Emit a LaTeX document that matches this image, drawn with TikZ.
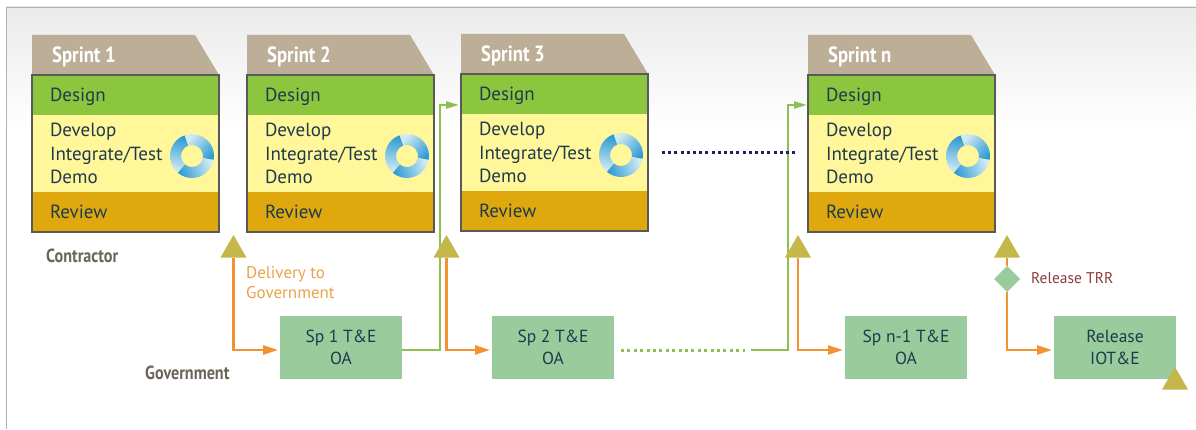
\documentclass[tikz,border=0pt]{standalone}
\usepackage{fontspec}
\setmainfont{PT Sans}
\newfontfamily\headfont[FakeStretch=0.85]{PT Sans}
\usetikzlibrary{arrows.meta,shapes.geometric}

\definecolor{tabtan}{HTML}{BDAE98}
\definecolor{designgreen}{HTML}{8CC63F}
\definecolor{workyellow}{HTML}{FFF799}
\definecolor{reviewgold}{HTML}{E0A80F}
\definecolor{framegrey}{HTML}{58595B}
\definecolor{boxgreen}{HTML}{9ACB9C}
\definecolor{triolive}{HTML}{C4B84A}
\definecolor{lineorange}{HTML}{F39230}
\definecolor{linegreen}{HTML}{8DC050}
\definecolor{inkblue}{HTML}{1F3A4D}
\definecolor{sidegrey}{HTML}{6B6459}
\definecolor{dotnavy}{HTML}{20205F}
\definecolor{ringdark}{HTML}{2E9BD6}
\definecolor{ringpale}{HTML}{D2EBF2}
\definecolor{deliverytext}{HTML}{E8A34A}
\definecolor{trrtext}{HTML}{8B3A3A}

\tikzset{
  band/.style={anchor=north west,minimum width=187pt,minimum height=#1,inner xsep=18pt,
    inner ysep=0pt,outer sep=0pt,text width=151pt,align=left,text=inkblue,
    font=\fontsize{19}{23.5}\selectfont},
  oneline/.style={text height=13pt,text depth=0pt},
  testbox/.style={fill=boxgreen,minimum width=122pt,minimum height=63pt,inner sep=0pt,outer sep=0pt,
    align=center,text=inkblue,font=\fontsize{17.5}{22}\selectfont},
  gate/.style={regular polygon,regular polygon sides=3,fill=triolive,minimum size=30pt,inner sep=0pt,outer sep=0pt},
  sidelabel/.style={anchor=west,inner sep=0pt,text=sidegrey,font=\headfont\bfseries\fontsize{19}{22}\selectfont},
  orangeline/.style={draw=lineorange,line width=2.2pt,-{Triangle[length=15pt,width=9pt]}},
  greenline/.style={draw=linegreen,line width=2.2pt,-{Triangle[length=13pt,width=7pt]}},
}

\begin{document}
\begin{tikzpicture}[x=1pt,y=1pt]
  \useasboundingbox (0,0) rectangle (1196,429);
  \shade[top color=black!8,bottom color=white] (6,422) rectangle (1196,300);
  \draw[black!30,line width=.8pt] (1196,422) -- (6,422) -- (6,0);

  % sprint stacks
  \foreach \nm/\x/\T/\ttl in {one/32/394/Sprint 1,two/247/394/Sprint 2,three/461/395/Sprint 3,last/808/394/Sprint n}
  {
    \fill[tabtan] (\x,\T) -- (\x+163,\T) -- (\x+187,\T-40) -- (\x,\T-40) -- cycle;
    \node[anchor=west,inner sep=0pt,text=white,font=\headfont\bfseries\fontsize{22}{26}\selectfont] (title\nm) at (\x+20,\T-22) {\ttl};
    \node[band=40pt,oneline,fill=designgreen] (design\nm) at (\x,\T-40) {Design};
    \node[band=77pt,fill=workyellow] (work\nm) at (\x,\T-80) {Develop\\Integrate/Test\\Demo};
    \node[band=40pt,oneline,fill=reviewgold] (review\nm) at (\x,\T-157) {Review};
    \draw[framegrey,line width=1.6pt] (design\nm.north west) rectangle (review\nm.south east);
    \foreach \a in {-10,110,230}
      \shade[top color=ringpale,bottom color=ringdark,shading angle=\a+59]
        ([shift={(\a:22)}]\x+160,\T-121) arc[start angle=\a,end angle=\a+118,radius=22]
        -- ([shift={(\a+118:11)}]\x+160,\T-121) arc[start angle=\a+118,end angle=\a,radius=11] -- cycle;
  }

  % government test events
  \node[testbox] (spone) at (341,81.5) {Sp 1 T\&E\\OA};
  \node[testbox] (sptwo) at (553,81.5) {Sp 2 T\&E\\OA};
  \node[testbox] (splast) at (906,81.5) {Sp n-1 T\&E\\OA};
  \node[testbox] (release) at (1115,81.5) {Release\\IOT\&E};

  \coordinate (upthree) at (440,200);
  \coordinate (inthree) at (459,324);
  \coordinate (dotstart) at (621,79);
  \coordinate (dotend) at (745,79);
  \coordinate (resume) at (751,79);
  \coordinate (uplast) at (788,200);
  \coordinate (inlast) at (807,324);
  \coordinate (navya) at (662,276);
  \coordinate (navyb) at (798,276);

  \draw[greenline] ([yshift=-2.5pt]spone.east) -| (upthree) |- (inthree);
  \draw[linegreen,line width=3pt,dash pattern=on 3pt off 3.4pt] (dotstart) -- (dotend);
  \draw[greenline] (resume) -| (uplast) |- (inlast);
  \draw[dotnavy,line width=3pt,dash pattern=on 3pt off 3.2pt] (navya) -- (navyb);

  \node[gate] (gateone) at (233.5,179) {};
  \node[gate] (gatetwo) at (446.5,179) {};
  \node[gate] (gatelast) at (798,179) {};
  \node[gate] (gaterel) at (1007,179) {};
  \node[gate] (gateend) at (1175,47) {};
  \node[diamond,aspect=1,fill=boxgreen,minimum size=26pt,inner sep=0pt,outer sep=0pt] (trr) at (1007,150) {};

  \draw[orangeline] (gateone.south) |- ([yshift=-2.5pt,xshift=-2pt]spone.west);
  \draw[orangeline] (gatetwo.south) |- ([yshift=-2.5pt,xshift=-2pt]sptwo.west);
  \draw[orangeline] (gatelast.south) |- ([yshift=-2.5pt,xshift=-2pt]splast.west);
  \draw[orangeline,-] (gaterel.south) -- (trr.north);
  \draw[orangeline] (trr.south) |- ([yshift=-2.5pt,xshift=-2pt]release.west);

  \node[sidelabel] (contractor) at (46,173) {Contractor};
  \node[sidelabel] (government) at (145,56) {Government};
  \node[anchor=west,inner sep=0pt,align=left,text=deliverytext,font=\fontsize{17}{20}\selectfont] (delivery) at (246,146) {Delivery to\\Government};
  \node[anchor=west,inner sep=0pt,text=trrtext,font=\fontsize{15.5}{18}\selectfont] (trrlabel) at (1031,151) {Release TRR};
\end{tikzpicture}
\end{document}
